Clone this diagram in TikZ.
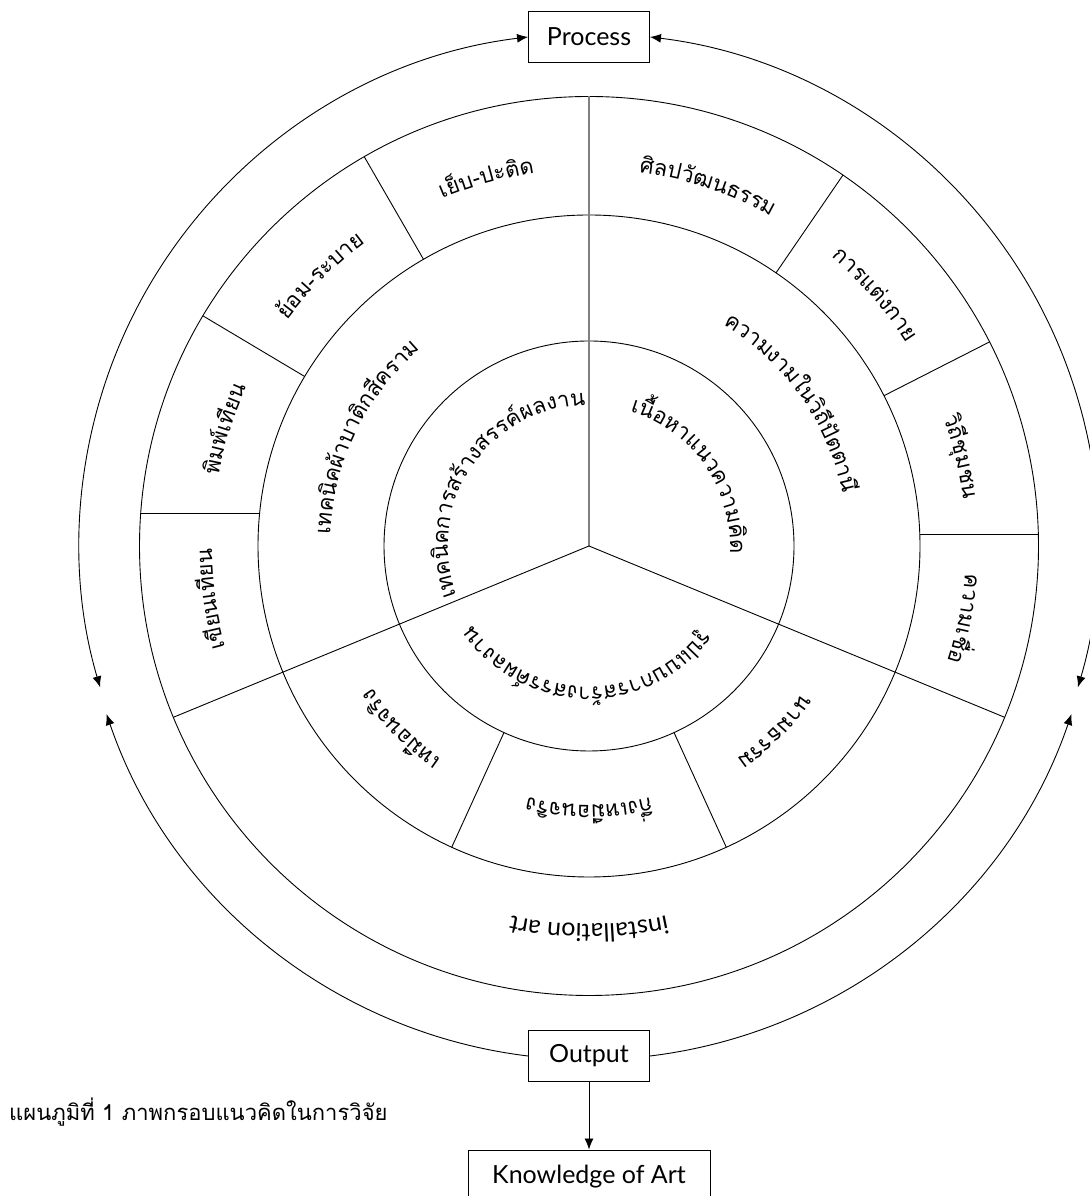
\documentclass[tikz,border=0pt]{standalone}
\usepackage{fontspec}
\newfontfamily\thaifont[Script=Thai]{Loma}
\newfontfamily\latfont{Lato}
\usetikzlibrary{decorations.text,arrows.meta,calc}
\newcommand\TT{\thaifont\fontsize{22}{26}\selectfont}
\newcommand\LT{\latfont\fontsize{25}{30}\selectfont}
\newcommand\arctext[4]{\path[decorate,decoration={text along path,text align=center,text={#4}}] ($(C)+({#1+#3}:#2)$) arc[start angle={#1+#3},end angle={#1-#3},radius=#2];}
\begin{document}
\begin{tikzpicture}[x=1pt,y=1pt,
  ring/.style={line width=0.9pt},
  divl/.style={line width=0.9pt},
  boxn/.style={draw,line width=0.9pt,minimum width=121pt,minimum height=51pt,inner sep=0pt,font=\LT},
  arr/.style={line width=0.9pt,{Latex[length=11pt,width=9pt]}-{Latex[length=11pt,width=9pt]}},
  arrone/.style={line width=0.9pt,-{Latex[length=11pt,width=9pt]}}]
\useasboundingbox (0,0) rectangle (1089,1196);
\coordinate (C) at (589,650);
% rings
\draw[ring] (C) circle[radius=205];
\draw[ring] (C) circle[radius=331];
\draw[ring] (C) circle[radius=449.5];
% main dividers
\draw[gray,line width=1.3pt] (C) -- ($(C)+(90:449.5)$);
\draw[divl] (C) -- ($(C)+(202.4:449.5)$);
\draw[divl] (C) -- ($(C)+(337.6:449.5)$);
% outer ring dividers
\foreach \a in {120,149.2,55.6,27}{\draw[divl] ($(C)+(\a:331)$) -- ($(C)+(\a:449.5)$);}
\draw[divl] (140.7,683) -- (259.65,683);
\draw[divl] (919.8,661.4) -- (1038.4,661.4);
% middle ring lower dividers
\foreach \a in {245.5,294.5}{\draw[divl] ($(C)+(\a:205)$) -- ($(C)+(\a:331)$);}
% boxes
\node[boxn] (proc) at (589,1159) {Process};
\node[boxn] (out) at (589,140) {Output};
\node[boxn,minimum width=242pt,minimum height=53pt] (know) at (589,19.5) {Knowledge of Art};
\node[anchor=west,inner sep=0pt] (cap) at (9,84) {\thaifont\fontsize{22}{26}\selectfont แผนภูมิที่ 1 ภาพกรอบแนวคิดในการวิจัย};
% arrows
\draw[arr] (proc.west) arc[start angle=96.9,end angle=196.4,radius=510];
\draw[arr] (proc.east) arc[start angle=83.1,end angle=-16.4,radius=510];
\draw[arrone] (out.west) arc[start angle=263.1,end angle=198.8,radius=510];
\draw[arrone] (out.east) arc[start angle=276.9,end angle=341.2,radius=510];
\draw[arrone] (out) -- (know);
% inner labels
\arctext{146}{141}{85}{|\TT|{เ}{ท}{ค}{นิ}{ค}{ก}{า}{ร}{ส}{ร้}{า}{ง}{ส}{ร}{ร}{ค์}{ผ}{ล}{ง}{า}{น}}
\arctext{35}{141}{85}{|\TT|{เ}{นื้}{อ}{ห}{า}{แ}{น}{ว}{ค}{ว}{า}{ม}{คิ}{ด}}
\arctext{269}{141}{85}{|\TT|{รู}{ป}{แ}{บ}{บ}{ก}{า}{ร}{ส}{ร้}{า}{ง}{ส}{ร}{ร}{ค์}{ผ}{ล}{ง}{า}{น}}
% middle labels
\arctext{154}{259}{60}{|\TT|{เ}{ท}{ค}{นิ}{ค}{ผ้}{า}{บ}{า}{ติ}{ก}{สี}{ค}{ร}{า}{ม}}
\arctext{35.3}{259}{60}{|\TT|{ค}{ว}{า}{ม}{ง}{า}{ม}{ใ}{น}{วิ}{ถี}{ปั}{ต}{ต}{า}{นี}}
\arctext{224.3}{259}{40}{|\TT|{เ}{ห}{มื}{อ}{น}{จ}{ริ}{ง}}
\arctext{270}{259}{40}{|\TT|{กึ่}{ง}{เ}{ห}{มื}{อ}{น}{จ}{ริ}{ง}}
\arctext{315}{259}{40}{|\TT|{น}{า}{ม}{ธ}{ร}{ร}{ม}}
% outer labels
\arctext{105.6}{377}{40}{|\TT|{เ}{ย็}{บ}{-}{ป}{ะ}{ติ}{ด}}
\arctext{134.8}{377}{40}{|\TT|{ย้}{อ}{ม}{-}{ร}{ะ}{บ}{า}{ย}}
\arctext{162.2}{377}{40}{|\TT|{พิ}{ม}{พ์}{เ}{ที}{ย}{น}}
\arctext{188}{377}{40}{|\TT|{เ}{ขี}{ย}{น}{เ}{ที}{ย}{น}}
\arctext{71.7}{377}{40}{|\TT|{ศิ}{ล}{ป}{วั}{ฒ}{น}{ธ}{ร}{ร}{ม}}
\arctext{41.3}{377}{40}{|\TT|{ก}{า}{ร}{แ}{ต่}{ง}{ก}{า}{ย}}
\arctext{13.5}{377}{40}{|\TT|{วิ}{ถี}{ชุ}{ม}{ช}{น}}
\arctext{-11}{377}{40}{|\TT|{ค}{ว}{า}{ม}{เ}{ชื่}{อ}}
\arctext{270}{378}{40}{|\LT|installation art}
\end{tikzpicture}
\end{document}
